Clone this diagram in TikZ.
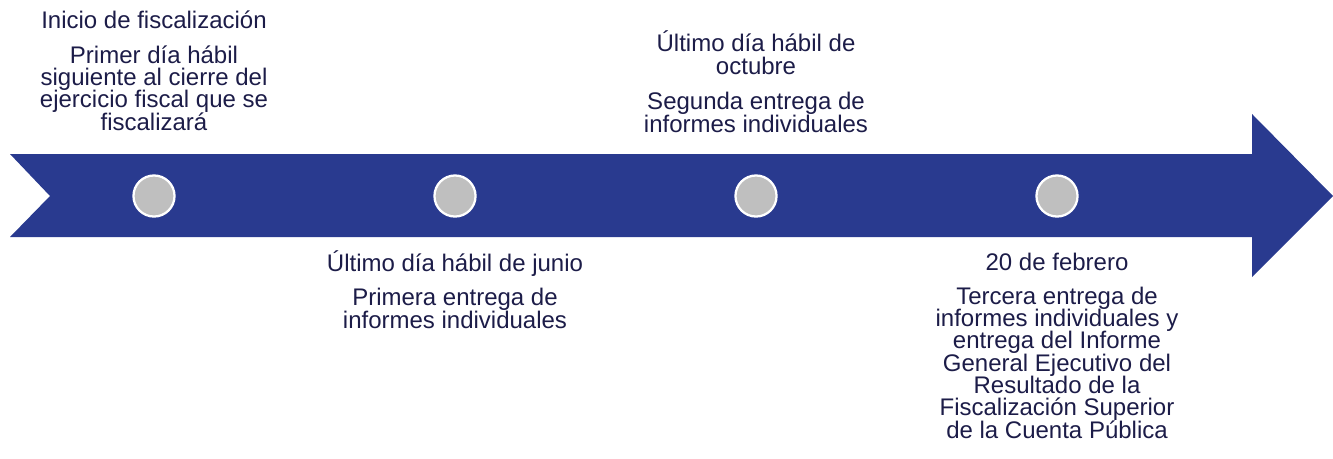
\documentclass[tikz,border=0pt]{standalone}
\usepackage{fontspec}
\setmainfont{Liberation Sans}
\usetikzlibrary{positioning}
\usepackage{xcolor}

\definecolor{timelineblue}{RGB}{41,58,143}
\definecolor{dotgray}{RGB}{191,191,191}
\definecolor{labelnavy}{RGB}{28,28,72}

\newcommand{\milestonefont}{\fontsize{18pt}{16.7pt}\selectfont\lineskiplimit=-10pt\relax}

\tikzset{
    milestone/.style={text=labelnavy, font=\milestonefont,
        align=center, anchor=base, inner sep=0pt},
    dot/.style={circle, fill=dotgray, draw=white, line width=1.7pt,
        minimum size=30.8pt, inner sep=0pt}
}

\begin{document}
\begin{tikzpicture}[x=0.75pt, y=-0.75pt]
            \useasboundingbox (0,0) rectangle (1333,458);

            \def\timeline{(10,154) -- (1252,154) -- (1252,114) -- (1333,196)
                -- (1252,277) -- (1252,237) -- (10,237) -- (50,196) -- cycle}

            \fill[timelineblue] \timeline;

            \node[dot] (startdot) at (154,196) {};
            \node[dot] (junedot) at (455,196) {};
            \node[dot] (octoberdot) at (756,196) {};
            \node[dot] (februarydot) at (1057,196) {};

            % base anchor sits on the last line
            \node[milestone] (starttitle) at (154,28) {Inicio de fiscalización};
            \node[milestone] (startbody) at (154,130) {Primer día hábil\\siguiente al cierre del\\ejercicio fiscal que se\\fiscalizará};

            \node[milestone] (junetitle) at (455,271) {Último día hábil de junio};
            \node[milestone] (junebody) at (455,328) {Primera entrega de\\informes individuales};

            \node[milestone] (octobertitle) at (756,74) {Último día hábil de\\octubre};
            \node[milestone] (octoberbody) at (756,132) {Segunda entrega de\\informes individuales};

            \node[milestone] (februarytitle) at (1057,270.5) {20 de febrero};
            \node[milestone] (februarybody) at (1057,438) {Tercera entrega de\\informes individuales y\\entrega del Informe\\General Ejecutivo del\\Resultado de la\\Fiscalización Superior\\de la Cuenta Pública};
        \end{tikzpicture}
\end{document}
